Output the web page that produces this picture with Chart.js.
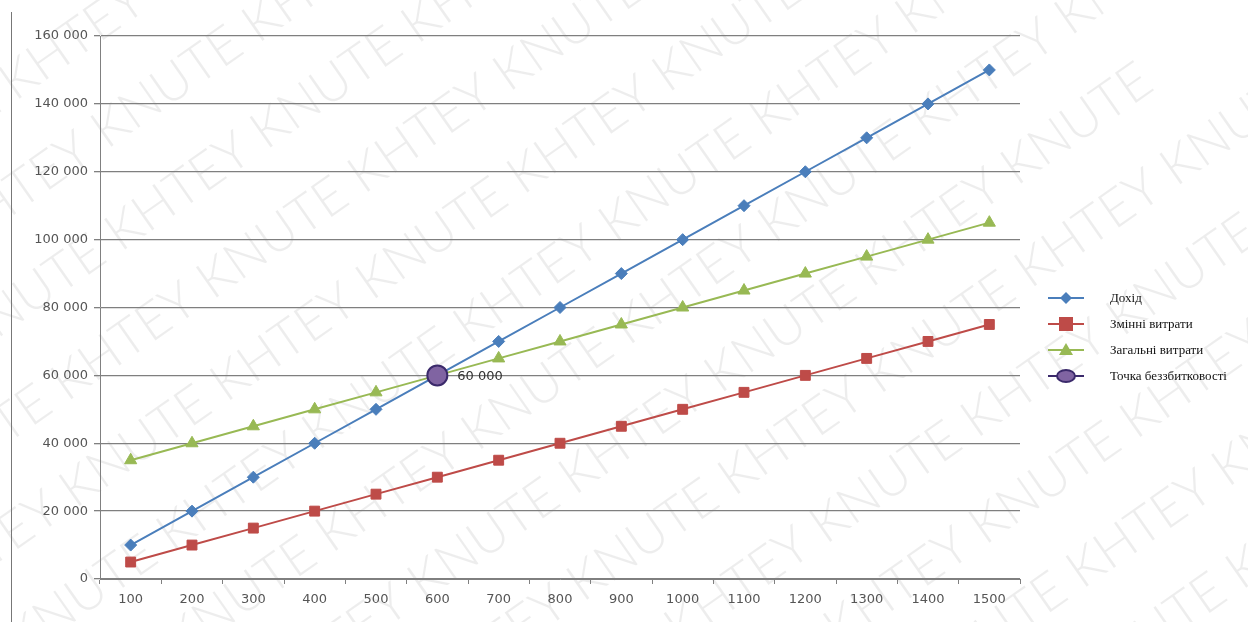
<!DOCTYPE html>
<html lang="uk">
<head>
  <meta charset="UTF-8">
  <title>Точка беззбитковості</title>
  <script src="https://cdn.jsdelivr.net/npm/chart.js@4"></script>
  <style>
    html, body { margin: 0; padding: 0; background: #fff; }
    #wrap { position: relative; width: 1248px; height: 622px; overflow: hidden; }
    #frame { position: absolute; left: 11px; top: 12px; bottom: 0; border-left: 1px solid #777; }
    #legend { position: absolute; left: 1046px; top: 287px; font-family: "Liberation Serif", serif; font-size: 13px; color: #111; }
    .item { position: relative; height: 26px; }
    .item canvas { position: absolute; left: 0; top: 0; }
    .item span { position: absolute; left: 64px; top: 3px; white-space: nowrap; }
  </style>
</head>
<body>
<div id="wrap">
  <canvas id="myChart" width="1248" height="622"></canvas>
  <div id="frame"></div>
  <div id="legend"></div>
</div>

<script>
  // data
  const categories = ["100", "200", "300", "400", "500", "600", "700", "800", "900", "1000", "1100", "1200", "1300", "1400", "1500"];
  const revenue = [10000, 20000, 30000, 40000, 50000, 60000, 70000, 80000, 90000, 100000, 110000, 120000, 130000, 140000, 150000];
  const variableCosts = [5000, 10000, 15000, 20000, 25000, 30000, 35000, 40000, 45000, 50000, 55000, 60000, 65000, 70000, 75000];
  const totalCosts = [35000, 40000, 45000, 50000, 55000, 60000, 65000, 70000, 75000, 80000, 85000, 90000, 95000, 100000, 105000];
  const breakEven = [null, null, null, null, null, 60000, null, null, null, null, null, null, null, null, null];
  const seriesNames = ["Дохід", "Змінні витрати", "Загальні витрати", "Точка  беззбитковості"];
  const yTicks = [0, 20000, 40000, 60000, 80000, 100000, 120000, 140000, 160000];

  function fmt(v) {
    return String(v).replace(/\B(?=(\d{3})+(?!\d))/g, ' ');
  }

  // light diagonal watermark behind everything
  const watermark = {
    id: 'watermark',
    beforeDraw(chart) {
      const ctx = chart.ctx;
      ctx.save();
      ctx.fillStyle = 'rgba(0,0,0,0.07)';
      ctx.font = '300 52px Lato, "DejaVu Sans", sans-serif';
      ctx.rotate(-35 * Math.PI / 180);
      const row = 'KHTEY KNUTE KHTEY KNUTE KHTEY KNUTE KHTEY KNUTE KHTEY KNUTE';
      for (let i = -4; i < 16; i++) {
        ctx.fillText(row, -900 + (i % 2) * 130, i * 92);
      }
      ctx.restore();
    }
  };

  // "60 000" label next to the break-even point
  const pointLabel = {
    id: 'pointLabel',
    afterDatasetsDraw(chart) {
      const meta = chart.getDatasetMeta(3);
      const ctx = chart.ctx;
      ctx.save();
      ctx.font = '13px "DejaVu Sans", sans-serif';
      ctx.fillStyle = '#333';
      ctx.textBaseline = 'middle';
      breakEven.forEach((v, i) => {
        if (v == null) return;
        const p = meta.data[i];
        ctx.fillText(fmt(v), p.x + 20, p.y + 1);
      });
      ctx.restore();
    }
  };

  const styles = [
    { color: '#4A7EBB', fill: '#4A7EBB', point: 'rectRot', radius: 6 },
    { color: '#BE4B48', fill: '#BE4B48', point: 'rect', radius: 7 },
    { color: '#98B954', fill: '#98B954', point: 'triangle', radius: 7 },
    { color: '#3b2a6b', fill: '#8064A2', point: 'circle', radius: 10 }
  ];
  const values = [revenue, variableCosts, totalCosts, breakEven];

  const datasets = values.map((d, i) => ({
    label: seriesNames[i],
    data: d,
    borderColor: styles[i].color,
    backgroundColor: styles[i].fill,
    pointBackgroundColor: styles[i].fill,
    pointBorderColor: i === 3 ? '#3b2a6b' : styles[i].fill,
    pointBorderWidth: i === 3 ? 2 : 1,
    pointStyle: styles[i].point,
    pointRadius: styles[i].radius,
    borderWidth: 2,
    tension: 0,
    order: 3 - i
  }));

  const ctx = document.getElementById('myChart').getContext('2d');
  new Chart(ctx, {
    type: 'line',
    data: { labels: categories, datasets: datasets },
    options: {
      responsive: false,
      animation: false,
      layout: { padding: { left: 0, top: 36, right: 228, bottom: 0 } },
      plugins: { legend: { display: false }, tooltip: { enabled: false } },
      scales: {
        x: {
          offset: true,
          border: { color: '#808080', width: 1 },
          grid: { offset: true, drawOnChartArea: false, tickLength: 5, tickColor: '#808080' },
          ticks: { color: '#555', font: { family: 'DejaVu Sans', size: 13 }, padding: 8, maxRotation: 0 },
          afterFit(s) { s.height = 43; }
        },
        y: {
          min: 0,
          max: 160000,
          afterBuildTicks(s) { s.ticks = yTicks.map(v => ({ value: v })); },
          border: { color: '#808080', width: 1 },
          grid: { color: '#7f7f7f', lineWidth: 1.3, tickLength: 6, tickColor: '#808080' },
          ticks: { color: '#555', font: { family: 'DejaVu Sans', size: 13 }, padding: 6, callback: v => fmt(v) },
          afterFit(s) { s.width = 100; }
        }
      }
    },
    plugins: [watermark, pointLabel]
  });

  // legend on the right, drawn with small canvases
  const legend = document.getElementById('legend');
  seriesNames.forEach((name, i) => {
    const item = document.createElement('div');
    item.className = 'item';
    const c = document.createElement('canvas');
    c.width = 44; c.height = 22;
    const g = c.getContext('2d');
    g.strokeStyle = styles[i].color;
    g.lineWidth = 2;
    g.beginPath(); g.moveTo(2, 11); g.lineTo(38, 11); g.stroke();
    g.fillStyle = styles[i].fill;
    const r = Math.min(styles[i].radius, 7);
    g.beginPath();
    if (styles[i].point === 'rectRot') { g.moveTo(20, 11 - r); g.lineTo(20 + r, 11); g.lineTo(20, 11 + r); g.lineTo(20 - r, 11); }
    else if (styles[i].point === 'rect') { g.rect(20 - r, 11 - r, 2 * r, 2 * r); }
    else if (styles[i].point === 'triangle') { g.moveTo(20, 11 - r); g.lineTo(20 + r, 11 + r * 0.7); g.lineTo(20 - r, 11 + r * 0.7); }
    else { g.ellipse(20, 11, 9, 6, 0, 0, Math.PI * 2); }
    g.closePath(); g.fill();
    if (i === 3) { g.strokeStyle = '#3b2a6b'; g.stroke(); }
    item.appendChild(c);
    const s = document.createElement('span');
    s.textContent = name;
    item.appendChild(s);
    legend.appendChild(item);
  });
</script>
</body>
</html>
